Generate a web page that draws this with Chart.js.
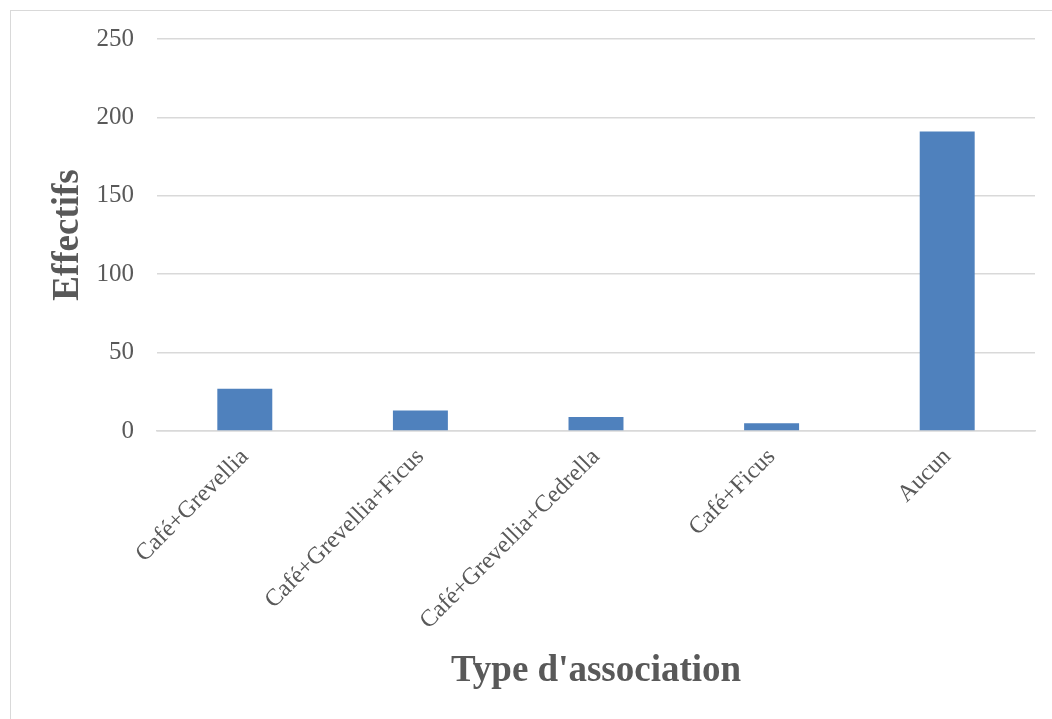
<!DOCTYPE html>
<html>
<head>
<meta charset="utf-8">
<script src="https://cdn.jsdelivr.net/npm/chart.js@4/dist/chart.umd.min.js"></script>
<style>
  html, body { margin: 0; padding: 0; background: #ffffff; }
  #wrap { position: relative; width: 1052px; height: 719px; overflow: hidden; }
  #frame { position: absolute; left: 10px; top: 10px; width: 1100px; height: 800px;
           border: 1px solid #d9d9d9; box-sizing: border-box; pointer-events: none; }
  canvas { position: absolute; left: 0; top: 0; }
</style>
</head>
<body>
<div id="wrap">
  <canvas id="chart" width="1052" height="719"></canvas>
  <div id="frame"></div>
</div>
<script>
// Effectifs par type d'association
const categories = ["Café+Grevellia", "Café+Grevellia+Ficus", "Café+Grevellia+Cedrella", "Café+Ficus", "Aucun"];
const effectifs = [27, 13, 9, 5, 191];
const yTicks = [0, 50, 100, 150, 200, 250];

const textGrey = "#595959";
const gridGrey = "#d9d9d9";
const serif = "'Liberation Serif', 'Times New Roman', serif";

new Chart(document.getElementById("chart"), {
  type: "bar",
  data: {
    labels: categories,
    datasets: [{
      data: effectifs,
      backgroundColor: "#4f81bd",
      borderWidth: 0,
      categoryPercentage: 1.0,
      barPercentage: 0.313
    }]
  },
  options: {
    responsive: false,
    animation: false,
    events: [],
    layout: { padding: { left: 0, top: 39, right: 17, bottom: 0 } },
    plugins: { legend: { display: false }, tooltip: { enabled: false } },
    scales: {
      x: {
        grid: { display: false, drawTicks: false },
        border: { display: true, color: gridGrey, width: 1.5 },
        ticks: {
          color: textGrey,
          font: { family: serif, size: 24 },
          minRotation: 45,
          maxRotation: 45,
          padding: 12,
          autoSkip: false
        },
        title: {
          display: true,
          text: "Type d'association",
          color: textGrey,
          font: { family: serif, size: 37, weight: "bold" },
          padding: { top: 0, bottom: 25 }
        },
        afterFit: (scale) => { scale.height = 288; }
      },
      y: {
        min: 0,
        max: 250,
        afterBuildTicks: (scale) => { scale.ticks = yTicks.map(v => ({ value: v })); },
        grid: { color: gridGrey, lineWidth: 1.5, drawTicks: false },
        border: { display: false },
        ticks: {
          color: textGrey,
          font: { family: serif, size: 25 },
          padding: 23
        },
        title: {
          display: true,
          text: "Effectifs",
          color: textGrey,
          font: { family: serif, size: 37, weight: "bold" },
          padding: { top: 46, bottom: 0 }
        },
        afterFit: (scale) => { scale.width = 157; }
      }
    }
  }
});
</script>
</body>
</html>
